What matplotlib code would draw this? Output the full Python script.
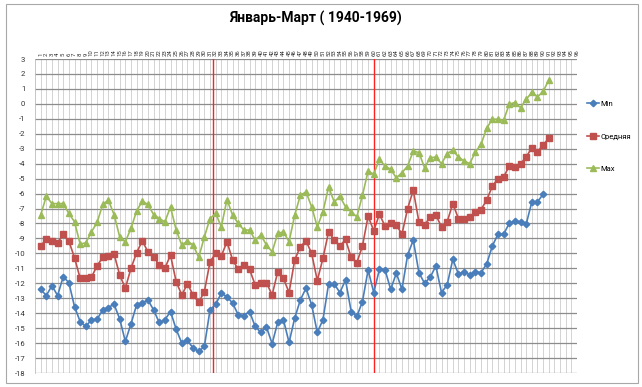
import matplotlib
matplotlib.use("Agg")
import matplotlib.pyplot as plt
from matplotlib.patches import Rectangle

# Январь-Март, 1940-1969
min_vals = [-12.4, -12.82, -12.16, -12.82, -11.56, -11.96, -13.56, -14.56, -14.89, -14.44,
            -14.4, -13.78, -13.62, -13.4, -14.38, -15.89, -14.71, -13.44, -13.33, -13.11,
            -13.78, -14.62, -14.44, -13.89, -15.07, -16.0, -15.82, -16.33, -16.56, -16.22,
            -13.78, -13.4, -12.67, -12.89, -13.33, -14.11, -14.16, -13.89, -14.89, -15.29,
            -14.93, -16.04, -14.6, -14.44, -15.96, -14.33, -13.11, -12.33, -13.44, -15.29,
            -14.44, -12.04, -12.04, -12.62, -11.78, -13.89, -14.22, -13.22, -11.11, -12.62,
            -11.07, -11.11, -12.4, -11.33, -12.4, -10.11, -9.11, -11.29, -12.0, -11.6,
            -10.84, -12.62, -12.11, -10.4, -11.38, -11.22, -11.44, -11.22, -11.29, -10.71,
            -9.51, -8.71, -8.71, -8.0, -7.82, -7.89, -8.04, -6.56, -6.56, -6.04]

avg_vals = [-9.51, -9.04, -9.18, -9.29, -8.73, -9.18, -10.29, -11.67, -11.67, -11.6,
            -10.82, -10.27, -10.18, -10.04, -11.44, -12.33, -11.0, -9.96, -9.16, -9.89,
            -10.22, -10.78, -11.0, -10.11, -11.89, -12.78, -12.04, -12.78, -13.27, -12.56,
            -10.56, -10.0, -10.18, -9.22, -10.44, -11.07, -10.78, -11.07, -12.11, -12.0,
            -11.96, -12.78, -11.22, -11.67, -12.62, -10.44, -9.56, -9.16, -10.0, -11.82,
            -10.33, -8.56, -9.11, -9.51, -9.07, -10.27, -10.62, -9.51, -7.51, -8.49,
            -7.38, -8.18, -7.96, -8.11, -8.71, -7.0, -5.78, -7.89, -8.11, -7.56,
            -7.44, -8.22, -7.89, -6.67, -7.67, -7.73, -7.6, -7.22, -7.07, -6.44,
            -5.51, -5.0, -4.89, -4.16, -4.23, -4.0, -3.56, -2.93, -3.2, -2.75, -2.3]

max_vals = [-7.44, -6.18, -6.67, -6.67, -6.67, -7.33, -7.89, -9.38, -9.29, -8.56,
            -7.93, -6.73, -6.44, -7.4, -8.89, -9.22, -8.33, -7.16, -6.51, -6.73,
            -7.4, -7.67, -7.89, -6.89, -8.44, -9.44, -9.18, -9.44, -10.27, -8.89,
            -7.67, -7.33, -8.22, -6.4, -7.44, -8.0, -8.44, -8.44, -9.11, -8.78,
            -9.44, -9.89, -8.67, -8.56, -9.22, -7.44, -6.11, -5.89, -6.89, -8.22,
            -7.22, -5.56, -6.56, -6.18, -6.89, -7.22, -7.56, -6.11, -4.5, -4.7,
            -3.71, -4.16, -4.38, -4.95, -4.6, -4.16, -3.15, -3.26, -4.27, -3.6,
            -3.56, -4.0, -3.33, -3.1, -3.56, -3.82, -4.0, -3.22, -2.71, -1.63,
            -1.03, -1.03, -1.1, -0.02, 0.09, -0.25, 0.31, 0.76, 0.47, 0.83, 1.59]

categories = list(range(1, 97))
y_ticks = list(range(-18, 4))
series_names = ["Min", "Средняя", "Max"]
marks = [31.5, 60.0]   # красные границы

plt.rcParams['axes.unicode_minus'] = False
plt.rcParams['font.family'] = ['Liberation Sans Narrow', 'Roboto', 'DejaVu Sans']

fig = plt.figure(figsize=(6.42, 3.87), dpi=100)
ax = fig.add_axes([35 / 642, 1 - 373 / 387, 542 / 642, 314 / 387])

ax.set_xlim(0, 96)
ax.set_ylim(-18, 3)

ax.set_yticks(y_ticks)
ax.set_yticklabels([str(v) for v in y_ticks], fontsize=5.5, color='#333333')
ax.set_xticks(categories)
ax.set_xticklabels([str(c) for c in categories], rotation=90, fontsize=4.3, color='#333333')
ax.xaxis.tick_top()
ax.tick_params(axis='both', length=0)
ax.tick_params(axis='y', pad=7)
ax.tick_params(axis='x', pad=2)

for s in ax.spines.values():
    s.set_visible(False)
ax.spines['left'].set_visible(True)
ax.spines['left'].set_color('#bdbdbd')
ax.spines['left'].set_linewidth(0.6)

ax.grid(axis='x', color='#cccccc', lw=0.6)
ax.grid(axis='y', color='#8c8c8c', lw=0.9)
ax.set_axisbelow(True)

for m in marks:
    ax.axvline(m, color='#ff2020', lw=1.0, zorder=1)

x_min = list(range(1, len(min_vals) + 1))
x_avg = list(range(1, len(avg_vals) + 1))
x_max = list(range(1, len(max_vals) + 1))

ax.plot(x_min, min_vals, color='#4a7ebb', lw=1.2, marker='D', ms=3.3, label=series_names[0], zorder=3)
ax.plot(x_avg, avg_vals, color='#c0504d', lw=1.2, marker='s', ms=4.0, label=series_names[1], zorder=3)
ax.plot(x_max, max_vals, color='#9bbb59', lw=1.2, marker='^', ms=4.3, label=series_names[2], zorder=3)

ax.legend(loc='upper left', bbox_to_anchor=(583 / 642, 1 - 97 / 387), bbox_transform=fig.transFigure,
          frameon=False, fontsize=5.5, labelspacing=3.4, handlelength=1.6, handletextpad=0.2,
          borderpad=0)

fig.text(316 / 642, 1 - 18 / 387, "Январь-Март ( 1940-1969)", ha='center', va='center',
         fontsize=10, fontweight='bold', family=['Liberation Sans Narrow', 'Roboto', 'DejaVu Sans'],
         stretch='condensed')

fig.add_artist(Rectangle((6 / 642, 4 / 387), 632 / 642, 379 / 387, transform=fig.transFigure,
                         fill=False, ec='#a8a8a8', lw=0.8))

fig.savefig("out.png", dpi=100)
